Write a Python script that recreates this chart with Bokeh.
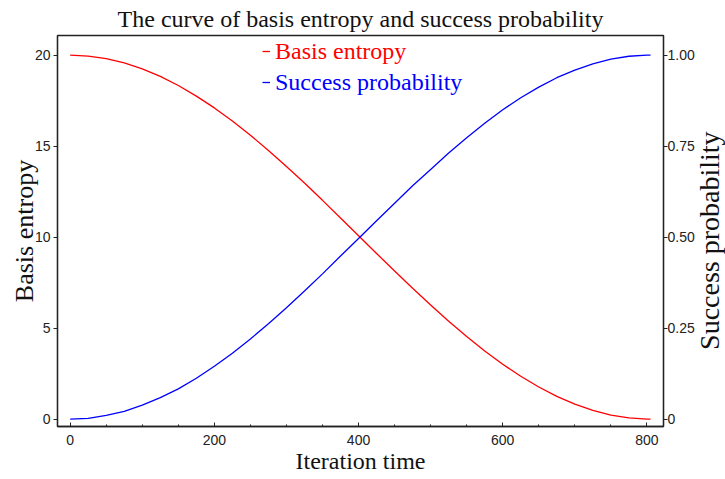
import math
from bokeh.plotting import figure
from bokeh.models import LinearAxis, Range1d, FixedTicker, Legend, LegendItem
from bokeh.embed import file_html
from bokeh.resources import INLINE

iterations = [0, 25, 50, 75, 100, 125, 150, 175, 200, 225, 250, 275, 300, 325, 350,
              375, 400, 425, 450, 475, 500, 525, 550, 575, 600, 625, 650, 675, 700,
              725, 750, 775, 800, 805]
entropy = [20.0, 19.95, 19.81, 19.57, 19.25, 18.83, 18.33, 17.75, 17.10, 16.38, 15.60,
           14.76, 13.88, 12.97, 12.02, 11.05, 10.07, 9.10, 8.14, 7.19, 6.27, 5.38, 4.54,
           3.74, 3.01, 2.35, 1.76, 1.25, 0.82, 0.48, 0.22, 0.06, 0.0, 0.0]
success = [0.0, 0.002, 0.010, 0.021, 0.038, 0.059, 0.083, 0.112, 0.145, 0.181, 0.220,
           0.262, 0.306, 0.352, 0.399, 0.448, 0.496, 0.545, 0.593, 0.641, 0.686, 0.731,
           0.773, 0.813, 0.850, 0.883, 0.912, 0.938, 0.959, 0.976, 0.989, 0.997, 1.0, 1.0]

x_ticks = [0, 200, 400, 600, 800]
x_minor = [50, 100, 150, 250, 300, 350, 450, 500, 550, 650, 700, 750]
y_ticks = [0, 5, 10, 15, 20]
prob_ticks = [0, 0.25, 0.5, 0.75, 1.0]
prob_labels = ["0", "0.25", "0.50", "0.75", "1.00"]
right_title = "Success probability"
right_title_start = 0.19

SERIF = "Liberation Serif"
SANS = "Liberation Sans"

p = figure(frame_width=606, frame_height=391,
           x_range=Range1d(-17.6, 823), y_range=Range1d(-0.41, 21.08),
           output_backend="svg", toolbar_location=None,
           min_border_left=57, min_border_right=62, min_border_top=35, min_border_bottom=53,
           title="The curve of basis entropy and success probability")
p.extra_y_ranges = {"prob": Range1d(-0.0205, 1.054)}

p.title.text_font = SERIF
p.title.text_font_size = "24px"
p.title.text_font_style = "normal"
p.title.align = "center"
p.title.text_color = "#111111"
p.title.standoff = 7
p.title.offset = 0

p.xgrid.visible = False
p.ygrid.visible = False
p.outline_line_color = "#222222"
p.outline_line_width = 1.3
p.background_fill_color = "white"
p.border_fill_color = "white"

r1 = p.line(iterations, entropy, line_color="#ff0000", line_width=1.3)
r2 = p.line(iterations, success, line_color="#0000ff", line_width=1.3, y_range_name="prob")

def style_axis(ax, label, size):
    ax.axis_label = label
    ax.axis_label_text_font = SERIF
    ax.axis_label_text_font_size = size
    ax.axis_label_text_font_style = "normal"
    ax.axis_label_text_color = "#111111"
    ax.major_label_text_font = SANS
    ax.major_label_text_font_size = "14px"
    ax.major_label_text_color = "#222222"
    ax.axis_line_color = "#222222"
    ax.axis_line_width = 1.3
    ax.major_tick_line_color = "#222222"
    ax.minor_tick_line_color = "#222222"

xa = p.xaxis[0]
style_axis(xa, "Iteration time", "24px")
xa.ticker = FixedTicker(ticks=x_ticks, minor_ticks=x_minor)
xa.major_tick_in = 4
xa.major_tick_out = 0
xa.minor_tick_in = 2
xa.minor_tick_out = 0
xa.major_label_standoff = 8
xa.axis_label_standoff = 0

ya = p.yaxis[0]
style_axis(ya, "Basis entropy", "26px")
ya.ticker = FixedTicker(ticks=y_ticks, minor_ticks=[])
ya.major_tick_in = 0
ya.major_tick_out = 4
ya.minor_tick_in = 0
ya.minor_tick_out = 0
ya.major_label_standoff = 3
ya.axis_label_standoff = -7

ra = LinearAxis(y_range_name="prob",
                ticker=FixedTicker(ticks=prob_ticks, minor_ticks=[]),
                major_label_overrides={t: s for t, s in zip(prob_ticks, prob_labels)})
style_axis(ra, None, "24px")
ra.major_tick_in = 0
ra.major_tick_out = 4
ra.minor_tick_in = 0
ra.minor_tick_out = 0
ra.major_label_standoff = 0
p.add_layout(ra, "right")

# Right-hand axis title, reading bottom-to-top, drawn as a rotated major label
rt = LinearAxis(y_range_name="prob",
                ticker=FixedTicker(ticks=[right_title_start], minor_ticks=[]),
                major_label_overrides={right_title_start: right_title})
rt.axis_line_color = None
rt.major_tick_line_color = None
rt.minor_tick_line_color = None
rt.major_tick_in = 0
rt.major_tick_out = 0
rt.major_label_standoff = 12
rt.major_label_orientation = math.pi / 2
rt.major_label_text_font = SERIF
rt.major_label_text_font_size = "28px"
rt.major_label_text_color = "#111111"
p.add_layout(rt, "right")

def make_legend(label, renderer, color, loc):
    lg = Legend(items=[LegendItem(label=label, renderers=[renderer])], location=loc)
    lg.label_text_font = SERIF
    lg.label_text_font_size = "24px"
    lg.label_text_color = color
    lg.label_height = 28
    lg.glyph_width = 8
    lg.glyph_height = 20
    lg.label_standoff = 5
    lg.padding = 0
    lg.margin = 0
    lg.spacing = 0
    lg.border_line_color = None
    lg.background_fill_alpha = 0
    p.add_layout(lg)

make_legend("Basis entropy", r1, "#ff0000", (205, 361))
make_legend("Success probability", r2, "#0000ff", (205, 330))

open("out.html", "w").write(file_html(p, INLINE))
